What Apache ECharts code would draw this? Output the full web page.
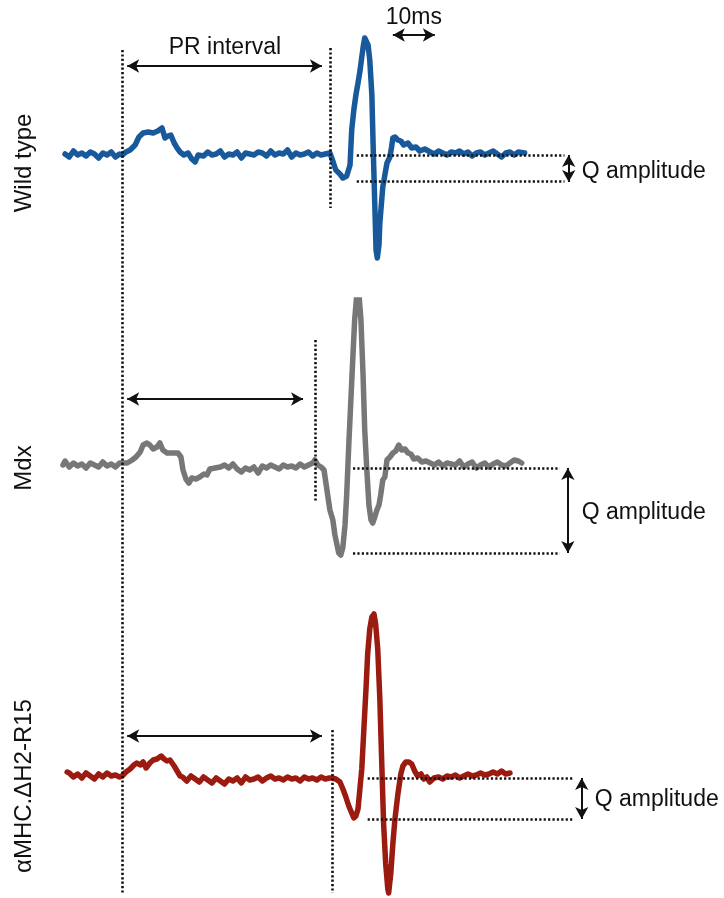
<!DOCTYPE html>
<html>
<head>
<meta charset="utf-8">
<title>ECG traces</title>
<script src="https://cdn.jsdelivr.net/npm/echarts@6/dist/echarts.min.js"></script>
<style>
  html, body { margin: 0; padding: 0; background: #fff; }
  #chart { width: 724px; height: 898px; }
</style>
</head>
<body>
<div id="chart"></div>
<script>
// time in ms, amplitude in mV
const wtTime = [0, 1, 2, 3, 4, 5, 6, 7, 8, 9, 10, 11, 12, 13,
  13.6, 14.5, 15.5, 16.7, 17.6, 18.6, 19.8, 21, 22.1, 23.1, 23.8, 24.5, 25.2, 26, 26.7, 27.4, 28.3, 29.3, 30.2, 31, 31.7,
  32, 33, 34, 35, 36, 37, 38, 39, 40, 41, 42, 43, 44, 45, 46, 47, 48, 49, 50, 51, 52, 53, 54, 55, 56, 57, 58, 59, 60, 61, 62,
  63.1, 63.8, 64.5, 65.5, 66.2, 67.1, 67.9, 68.3, 68.8, 69.3, 69.8, 70.3, 70.7, 71.1, 71.4, 71.8, 72.2, 72.6, 73.1, 73.4, 73.8, 74.1, 74.4, 74.8,
  75.0, 75.7, 76.2, 76.7, 77.4, 77.8, 78.1, 78.6, 79.3, 80, 80.7, 81.7, 82.6, 83.6, 84.5, 85.7,
  87, 88, 89, 90, 91, 92, 93, 94, 95, 96, 97, 98, 99, 100, 101, 102, 103, 104, 105, 106, 107, 108, 109.5];
const wtAmp = [0.01, -0.02, 0.04, 0.0, 0.02, -0.01, 0.03, 0.01, -0.03, 0.02, 0.0, 0.03, -0.02, 0.01,
  0.0, 0.03, 0.05, 0.1, 0.18, 0.22, 0.23, 0.22, 0.24, 0.27, 0.17, 0.19, 0.2, 0.12, 0.07, 0.03, 0.0, 0.02, -0.04, -0.07, 0.0,
  0.02, -0.01, 0.03, 0.0, 0.01, 0.04, -0.02, 0.01, 0.0, 0.03, -0.03, 0.02, 0.01, 0.0, 0.03, 0.02, -0.01, 0.04, 0.0, 0.02, 0.01, 0.05, -0.02, 0.02, 0.0, 0.01, 0.03, -0.01, 0.02, 0.0, 0.01,
  0.02, -0.06, -0.15, -0.19, -0.23, -0.21, -0.1, 0.25, 0.45, 0.6, 0.72, 0.85, 0.98, 1.1, 1.17, 1.16, 1.1, 0.95, 0.6, 0.1, -0.5, -0.95, -1.03, -0.9,
  -0.68, -0.32, -0.2, -0.08, -0.02, 0.08, 0.17, 0.18, 0.15, 0.14, 0.1, 0.12, 0.07, 0.08, 0.04, 0.06,
  0.03, 0.01, 0.04, 0.02, 0.0, 0.03, 0.02, 0.04, 0.01, 0.03, -0.01, 0.02, 0.03, 0.0, 0.02, 0.04, 0.01, -0.02, 0.02, 0.03, 0.0, 0.03, 0.02];

const mdxTime = [-0.5, 0, 1, 2, 3, 4, 5, 6, 7, 8, 9, 10, 11, 12, 13,
  13.6, 14.8, 16, 16.9, 17.9, 18.6, 19.5, 20.2, 21, 21.9, 22.6, 23.3, 24.3, 25.5, 26.9, 27.6, 28.1, 28.8, 29.5, 30.2, 31.2, 32.1, 33.1, 33.8, 34.5, 35.7,
  37, 38, 39, 40, 41, 42, 43, 44, 45, 46, 47, 48, 49, 50, 51, 52, 53, 54, 55, 56, 57, 58, 59,
  59.5, 60.2, 61, 61.7, 62.4, 63.1, 63.8, 64.3, 64.8, 65.2, 65.7, 66.2, 66.7, 67.1, 67.6, 68.1, 68.6, 69, 69.5, 70, 70.5, 71, 71.4, 71.9, 72.4, 72.9, 73.3, 73.8, 74.3, 74.8, 75.2, 75.7, 76.2, 76.7,
  77.4, 78.1, 78.8, 79.5, 80.2, 81, 81.7, 82.4, 83.1, 84, 85, 86,
  87, 88, 89, 90, 91, 92, 93, 94, 95, 96, 97, 98, 99, 100, 101, 102, 103, 104, 105, 106, 107, 108, 108.8];
const mdxAmp = [0.0, 0.04, -0.02, 0.02, -0.01, 0.01, -0.03, 0.02, 0.0, -0.02, 0.03, -0.01, 0.01, -0.02, 0.02,
  0.02, 0.02, 0.05, 0.08, 0.13, 0.2, 0.22, 0.2, 0.16, 0.18, 0.22, 0.15, 0.12, 0.12, 0.12, 0.08, -0.05, -0.14, -0.18, -0.13, -0.14, -0.12, -0.09, -0.1, -0.04, -0.03,
  -0.02, 0.0, -0.03, 0.01, -0.04, -0.07, -0.03, -0.05, -0.02, -0.08, -0.01, -0.03, 0.0, -0.02, -0.04, 0.0, -0.02, -0.01, -0.03, 0.01, -0.02, 0.0, 0.02,
  0.05, 0.0, -0.02, -0.05, -0.25, -0.45, -0.55, -0.7, -0.8, -0.88, -0.9, -0.82, -0.6, -0.3, 0.2, 0.65, 1.1, 1.45, 1.7, 1.72, 1.45, 0.9, 0.35, -0.05, -0.4, -0.55, -0.58, -0.52, -0.45, -0.4, -0.3, -0.15, -0.12, 0.05,
  0.08, 0.12, 0.14, 0.2, 0.15, 0.16, 0.12, 0.11, 0.06, 0.07, 0.03, 0.04,
  0.02, 0.0, 0.03, -0.01, 0.02, 0.01, 0.0, 0.04, -0.02, 0.01, 0.03, -0.03, 0.0, 0.02, -0.02, 0.01, 0.03, 0.0, -0.01, 0.02, 0.05, 0.04, 0.02];

const tgTime = [0.5, 1, 2, 3, 4, 5, 6, 7, 8, 9, 10, 11, 12, 13,
  13.6, 14.5, 15.5, 16.4, 17.1, 17.9, 18.6, 19.3, 20.2, 21, 21.9, 22.9, 23.6, 24.3, 25, 26, 26.7, 27.4,
  28, 29, 30, 31, 32, 33, 34, 35, 36, 37, 38, 39, 40, 41, 42, 43, 44, 45, 46, 47, 48, 49, 50, 51, 52, 53, 54, 55, 56, 57, 58, 59, 60, 61, 62, 63,
  63.6, 64.5, 65.5, 66.2, 66.9, 67.6, 68.3, 68.8, 69.3, 69.8, 70.2, 70.7, 71.2, 71.7, 72.1, 72.6, 73.1, 73.6, 74, 74.5, 75, 75.5, 75.9, 76.4, 76.9, 77.1, 77.6, 78.1, 78.6, 79.3,
  80, 80.5, 81.2, 81.9, 82.6, 83.3, 84, 84.8, 85.5, 86.2, 86.9, 87.9,
  89, 90, 91, 92, 93, 94, 95, 96, 97, 98, 99, 100, 101, 102, 103, 104, 105, 106];
const tgAmp = [0.07, 0.06, 0.02, 0.05, 0.01, 0.06, 0.03, 0.0, 0.05, 0.02, 0.06, 0.03, 0.04, 0.02,
  0.03, 0.07, 0.1, 0.14, 0.16, 0.14, 0.17, 0.11, 0.16, 0.19, 0.2, 0.23, 0.2, 0.18, 0.19, 0.13, 0.08, 0.03,
  0.02, -0.02, 0.03, 0.0, -0.03, 0.02, -0.01, -0.04, 0.01, -0.02, -0.05, 0.0, -0.02, 0.01, -0.04, 0.02, -0.01, 0.0, 0.02, -0.02, 0.01, 0.03, 0.0, 0.01, -0.01, 0.02, 0.0, 0.01, -0.02, 0.02, 0.0, 0.01, -0.01, 0.02, 0.0, 0.01,
  0.01, 0.0, -0.03, -0.1, -0.18, -0.27, -0.34, -0.39, -0.37, -0.3, -0.12, 0.1, 0.5, 0.9, 1.25, 1.5, 1.62, 1.65, 1.55, 1.3, 0.8, 0.1, -0.45, -0.85, -1.1, -1.14, -0.95, -0.65, -0.4, -0.15,
  0.05, 0.13, 0.17, 0.17, 0.15, 0.08, 0.03, 0.05, 0.0, 0.02, -0.03, 0.01,
  0.02, 0.0, 0.03, 0.02, 0.04, 0.01, 0.03, 0.05, 0.03, 0.04, 0.06, 0.04, 0.05, 0.07, 0.05, 0.08, 0.05, 0.06];

const traceNames = ['Wild type', 'Mdx', 'αMHC.ΔH2-R15'];
const traceColors = ['#17599b', '#777777', '#9b1b10'];

// annotation values, per trace: [Q top, Q bottom] in mV
const qLevels = [[0.0, -0.26], [-0.03, -0.88], [0.01, -0.4]];
// PR interval: start / end markers (ms)
const prStart = 13.6;
const prEnd = [63.1, 59.5, 63.6];
const scaleBar = [78.1, 88.1]; // 10 ms

const chart = echarts.init(document.getElementById('chart'));

const dotted = { type: [2.2, 2.2], width: 2.6, color: '#111' };
const solid = { type: 'solid', width: 2, color: '#111' };
const labelFont = { fontFamily: 'Liberation Sans, Arial, sans-serif', fontSize: 23, color: '#111' };
const sideFont = '24px "Liberation Sans", Arial, sans-serif';

function seg(a, b, style, arrows) {
  const s = arrows ? 'arrow' : 'none';
  return [
    { coord: a, symbol: s, lineStyle: style },
    { coord: b, symbol: s }
  ];
}

function textPoint(coord, text, pos) {
  return {
    coord: coord,
    symbolSize: 0,
    label: Object.assign({ show: true, formatter: text, position: pos, distance: 0 }, labelFont)
  };
}

const grids = [
  { left: 0, right: 0, top: 0, height: 300 },
  { left: 0, right: 0, top: 300, height: 300 },
  { left: 0, right: 0, top: 600, height: 298 }
];
const yRanges = [[-1.45, 1.55], [-1.35, 1.65], [-1.19, 1.79]];

const xAxes = grids.map((g, i) => ({
  type: 'value', gridIndex: i, min: -15.5, max: 157, show: false
}));
const yAxes = grids.map((g, i) => ({
  type: 'value', gridIndex: i, min: yRanges[i][0], max: yRanges[i][1], show: false
}));

const traces = [[wtTime, wtAmp], [mdxTime, mdxAmp], [tgTime, tgAmp]];

const marks = [
  {
    lines: [
      seg([prStart, 1.05], [prStart, -1.45], dotted),
      seg([prEnd[0], 1.07], [prEnd[0], -0.53], dotted),
      seg([14.8, 0.89], [61.2, 0.89], solid, true),
      seg([scaleBar[0], 1.2], [scaleBar[1], 1.2], solid, true),
      seg([69.5, qLevels[0][0]], [119, qLevels[0][0]], dotted),
      seg([69.5, qLevels[0][1]], [119, qLevels[0][1]], dotted),
      seg([120, qLevels[0][0]], [120, qLevels[0][1] - 0.01], solid, true)
    ],
    texts: [
      textPoint([38.1, 1.07], 'PR interval', 'inside'),
      textPoint([83.1, 1.37], '10ms', 'inside'),
      textPoint([123.1, -0.17], 'Q amplitude', 'right')
    ]
  },
  {
    lines: [
      seg([prStart, 1.65], [prStart, -1.35], dotted),
      seg([prEnd[1], 1.25], [prEnd[1], -0.37], dotted),
      seg([14.8, 0.66], [56.7, 0.66], solid, true),
      seg([68.6, qLevels[1][0]], [117.9, qLevels[1][0]], dotted),
      seg([68.6, qLevels[1][1]], [117.9, qLevels[1][1]], dotted),
      seg([119.8, qLevels[1][0]], [119.8, qLevels[1][1]], solid, true)
    ],
    texts: [
      textPoint([123.1, -0.48], 'Q amplitude', 'right')
    ]
  },
  {
    lines: [
      seg([prStart, 1.79], [prStart, -1.14], dotted),
      seg([prEnd[2], 0.49], [prEnd[2], -1.14], dotted),
      seg([14.8, 0.43], [61.2, 0.43], solid, true),
      seg([72.1, qLevels[2][0]], [121, qLevels[2][0]], dotted),
      seg([72.1, qLevels[2][1]], [121, qLevels[2][1]], dotted),
      seg([123.1, qLevels[2][0]], [123.1, qLevels[2][1]], solid, true)
    ],
    texts: [
      textPoint([126.2, -0.21], 'Q amplitude', 'right')
    ]
  }
];

const series = traces.map((tr, i) => ({
  name: traceNames[i],
  type: 'line',
  xAxisIndex: i,
  yAxisIndex: i,
  data: tr[0].map((t, k) => [t, tr[1][k]]),
  showSymbol: false,
  silent: true,
  lineStyle: { color: traceColors[i], width: 5.5, join: 'round', cap: 'round' },
  markLine: {
    silent: true,
    symbol: 'none',
    symbolSize: [10, 12],
    label: { show: false },
    data: marks[i].lines
  },
  markPoint: {
    silent: true,
    symbol: 'circle',
    symbolSize: 0,
    data: marks[i].texts
  }
}));

const sideLabelY = [163, 468, 786];

chart.setOption({
  animation: false,
  backgroundColor: '#fff',
  grid: grids,
  xAxis: xAxes,
  yAxis: yAxes,
  series: series,
  graphic: traceNames.map((name, i) => ({
    type: 'text', x: 24, y: sideLabelY[i], rotation: Math.PI / 2,
    style: { text: name, textAlign: 'center', textVerticalAlign: 'middle', fill: '#111', font: sideFont }
  }))
});
</script>
</body>
</html>
